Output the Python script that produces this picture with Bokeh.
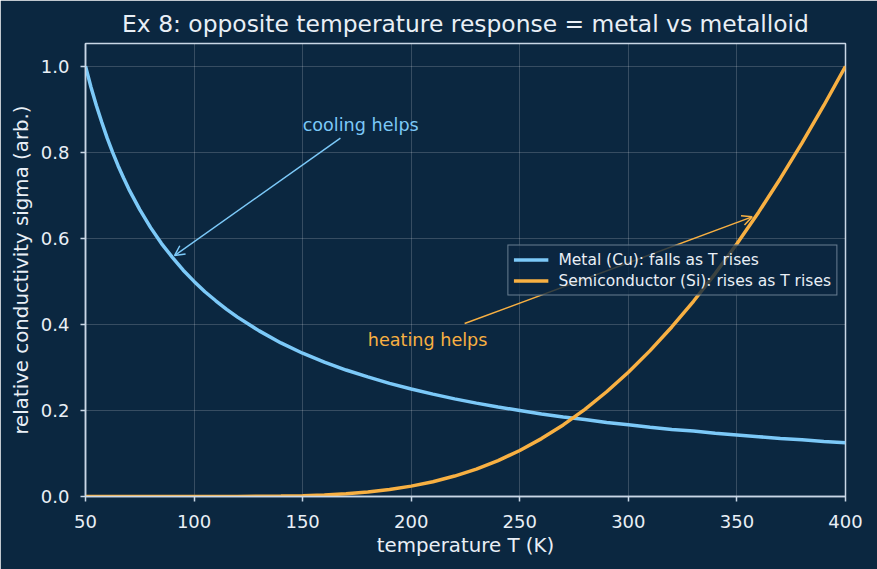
from bokeh.plotting import figure
from bokeh.models import (Range1d, Arrow, OpenHead, Label, Legend, LegendItem,
                          FixedTicker, PrintfTickFormatter)
from bokeh.embed import file_html
from bokeh.resources import INLINE

# temperature samples (K)
temperature_k = [50, 52.5, 55, 57.5, 60, 62.5, 65, 67.5, 70, 75, 80, 85, 90, 95, 100,
                 105, 110, 115, 120, 130, 140, 150, 160, 170, 180, 190, 200, 210,
                 220, 230, 240, 250, 260, 270, 280, 290, 300, 310, 320, 330, 340,
                 350, 360, 370, 380, 390, 400]

# relative conductivity of copper (falls with T)
metal_cu = [1.000, 0.952, 0.909, 0.870, 0.833, 0.800, 0.769, 0.741, 0.714, 0.667,
            0.625, 0.588, 0.556, 0.526, 0.500, 0.476, 0.455, 0.435, 0.417, 0.385,
            0.357, 0.333, 0.3125, 0.294, 0.278, 0.263, 0.250, 0.238, 0.227, 0.217,
            0.208, 0.200, 0.192, 0.185, 0.179, 0.172, 0.167, 0.161, 0.156, 0.152,
            0.147, 0.143, 0.139, 0.135, 0.132, 0.128, 0.125]

# relative conductivity of silicon (rises with T)
semiconductor_si = [0.0, 0.0, 0.0, 0.0, 0.0, 0.0, 0.0, 0.0, 0.0, 0.0,
                    0.0, 0.0, 0.0, 0.0, 0.0, 0.00003, 0.00005, 0.0001, 0.00017,
                    0.00044, 0.00099, 0.0020, 0.00375, 0.00647, 0.01054, 0.01629,
                    0.0241, 0.0344, 0.0475, 0.0637, 0.0835, 0.107, 0.1346, 0.1664,
                    0.2026, 0.2435, 0.2889, 0.3391, 0.3941, 0.4538, 0.5182, 0.5874,
                    0.661, 0.7393, 0.8219, 0.9089, 1.000]

x_ticks = [50, 100, 150, 200, 250, 300, 350, 400]
y_ticks = [0.0, 0.2, 0.4, 0.6, 0.8, 1.0]

BG = "#0b2740"
FG = "#e9eff6"
FRAME = "#c9d7e6"
BLUE = "#7cc9f8"
ORANGE = "#f8b042"
FONT = "DejaVu Sans"

p = figure(width=877, height=569, output_backend="svg", toolbar_location=None,
           x_range=Range1d(50, 400), y_range=Range1d(0, 1.053),
           min_border_left=85, min_border_right=32, min_border_top=43,
           min_border_bottom=73,
           title="Ex 8: opposite temperature response = metal vs metalloid",
           x_axis_label="temperature T (K)",
           y_axis_label="relative conductivity sigma (arb.)")

p.background_fill_color = BG
p.border_fill_color = BG
p.outline_line_color = FRAME
p.outline_line_width = 1.5

p.title.text_font = FONT
p.title.text_font_size = "23.4px"
p.title.text_font_style = "normal"
p.title.text_color = FG
p.title.align = "center"
p.title.standoff = 12

p.grid.grid_line_color = "white"
p.grid.grid_line_alpha = 0.18
p.grid.grid_line_width = 1

p.xaxis.ticker = FixedTicker(ticks=x_ticks)
p.yaxis.ticker = FixedTicker(ticks=y_ticks)
p.yaxis.formatter = PrintfTickFormatter(format="%.1f")

for ax in (p.xaxis, p.yaxis):
    ax.axis_line_color = FRAME
    ax.axis_line_width = 1.5
    ax.major_tick_line_color = FRAME
    ax.major_tick_line_width = 1.5
    ax.major_tick_out = 5
    ax.major_tick_in = 0
    ax.minor_tick_line_color = None
    ax.major_label_text_font = FONT
    ax.major_label_text_font_size = "18px"
    ax.major_label_text_color = FG
    ax.axis_label_text_font = FONT
    ax.axis_label_text_font_size = "19.8px"
    ax.axis_label_text_font_style = "normal"
    ax.axis_label_text_color = FG

p.xaxis.major_label_standoff = 13
p.xaxis.axis_label_standoff = 3
p.yaxis.major_label_standoff = 11

metal = p.line(temperature_k, metal_cu, line_color=BLUE, line_width=3.5)
semi = p.line(temperature_k, semiconductor_si, line_color=ORANGE, line_width=3.5)

legend = Legend(items=[LegendItem(label="Metal (Cu): falls as T rises", renderers=[metal]),
                       LegendItem(label="Semiconductor (Si): rises as T rises", renderers=[semi])],
                location="right")
legend.background_fill_color = BG
legend.background_fill_alpha = 0.8
legend.border_line_color = FRAME
legend.border_line_width = 1.2
legend.label_text_font = FONT
legend.label_text_font_size = "15.5px"
legend.label_text_color = FG
legend.glyph_width = 35
legend.glyph_height = 18
legend.label_standoff = 10
legend.padding = 5
legend.spacing = 3
legend.margin = 8
p.add_layout(legend)

# annotations
p.add_layout(Label(x=150, y=0.864, text="cooling helps", text_color=BLUE,
                   text_font=FONT, text_font_size="17.6px",
                   text_baseline="alphabetic"))
p.add_layout(Arrow(end=OpenHead(size=10, line_color=BLUE, line_width=1.5),
                   x_start=167.4, y_start=0.833, x_end=91, y_end=0.56,
                   line_color=BLUE, line_width=1.5))

p.add_layout(Label(x=180, y=0.364, text="heating helps", text_color=ORANGE,
                   text_font=FONT, text_font_size="17.6px",
                   text_baseline="alphabetic"))
p.add_layout(Arrow(end=OpenHead(size=10, line_color=ORANGE, line_width=1.5),
                   x_start=224.6, y_start=0.402, x_end=357, y_end=0.65,
                   line_color=ORANGE, line_width=1.5))

open("out.html", "w").write(file_html(p, INLINE))
